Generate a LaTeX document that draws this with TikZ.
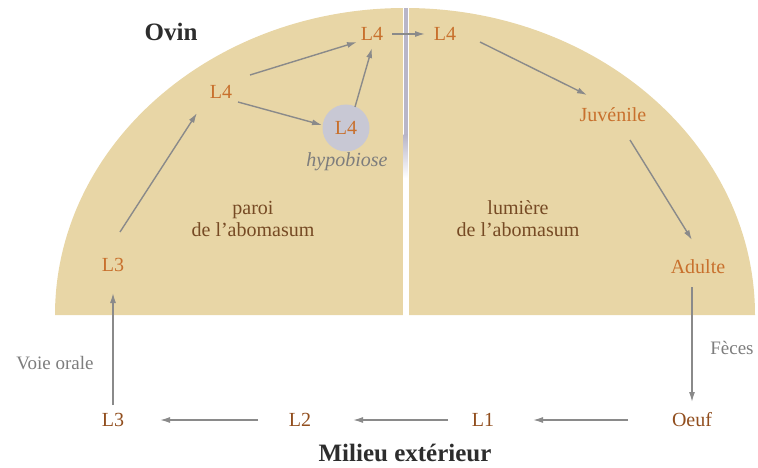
\documentclass[tikz,border=0pt]{standalone}
\usepackage{fontspec}
\setmainfont{Liberation Serif}
\usetikzlibrary{arrows.meta}
\definecolor{tan}{RGB}{232,214,166}
\definecolor{lorange}{RGB}{200,112,45}
\definecolor{lbrown}{RGB}{145,78,30}
\definecolor{tbrown}{RGB}{118,74,36}
\definecolor{arrgrey}{RGB}{138,138,138}
\definecolor{txtgrey}{RGB}{125,125,125}
\definecolor{divgrey}{RGB}{185,182,200}
\definecolor{circgrey}{RGB}{200,200,212}
\definecolor{darktxt}{RGB}{45,45,45}
\tikzset{
  lab/.style={font=\fontsize{20}{22}\selectfont, text=lorange, inner sep=0pt},
  outlab/.style={font=\fontsize{20}{22}\selectfont, text=lbrown, inner sep=0pt},
  zone/.style={font=\fontsize{20}{22}\selectfont, text=tbrown, align=center, inner sep=0pt},
  note/.style={font=\fontsize{19}{22}\selectfont, text=txtgrey, inner sep=0pt},
  title/.style={font=\fontsize{25}{28}\selectfont\bfseries, text=darktxt, inner sep=0pt},
  arr/.style={draw=arrgrey, line width=1.4pt, -{Latex[length=10pt,width=6pt]}},
}
\begin{document}
\begin{tikzpicture}[x=1pt,y=1pt]
\useasboundingbox (0,0) rectangle (758,-468);
% half ellipse
\fill[tan] (55,-315) arc[start angle=180, end angle=0, x radius=350pt, y radius=307pt] -- cycle;
% divider
\fill[white] (402.5,0) rectangle (408.5,-317);
\fill[divgrey] (403.5,-8) rectangle (407.5,-135);
\shade[top color=divgrey, bottom color=white] (403.5,-135) rectangle (407.5,-178);
% titles
\node[title] (ovin) at (171,-32) {Ovin};
\node[title] (milieu) at (405,-453) {Milieu extérieur};
% inside labels
\node[lab] (l4a) at (221,-92) {L4};
\node[lab] (l4b) at (372,-34) {L4};
\node[lab] (l4c) at (445,-34) {L4};
\node[circle, fill=circgrey, minimum size=47pt, inner sep=0pt] (l4h) at (346,-128) {};
\node[lab] (l4ht) at (346,-128) {L4};
\node[note, font=\fontsize{20}{22}\selectfont\itshape] (hyp) at (347,-162) {hypobiose};
\node[lab] (juv) at (613,-115) {Juvénile};
\node[lab] (adu) at (698,-267) {Adulte};
\node[lab] (l3in) at (113,-265) {L3};
\node[zone] (paroi) at (253,-219) {paroi\\de l’abomasum};
\node[zone] (lum) at (518,-219) {lumière\\de l’abomasum};
% outside labels
\node[outlab] (oeuf) at (692,-420) {Oeuf};
\node[outlab] (l1) at (483,-420) {L1};
\node[outlab] (l2) at (300,-420) {L2};
\node[outlab] (l3out) at (113,-420) {L3};
\node[note] (voie) at (55,-363) {Voie orale};
\node[note] (feces) at (732,-348) {Fèces};
% arrows
\draw[arr] ([shift={(7,33)}]l3in.center) -- ([shift={(-24,-21)}]l4a.center);
\draw[arr] ([shift={(29,17)}]l4a.center) -- ([shift={(-15,-8)}]l4b.center);
\draw[arr] ([shift={(17,-10)}]l4a.center) -- ([shift={(-24,3)}]l4h.center);
\draw[arr] ([shift={(9,21)}]l4h.center) -- ([shift={(0,-14)}]l4b.center);
\draw[arr] ([shift={(20,0)}]l4b.center) -- ([shift={(-20,0)}]l4c.center);
\draw[arr] ([shift={(35,-8)}]l4c.center) -- ([shift={(-26,20)}]juv.center);
\draw[arr] ([shift={(17,-25)}]juv.center) -- ([shift={(-6,27)}]adu.center);
\draw[arr] ([shift={(-6,-20)}]adu.center) -- ([shift={(0,18)}]oeuf.center);
\draw[arr] ([shift={(-64,0)}]oeuf.center) -- ([shift={(50,0)}]l1.center);
\draw[arr] ([shift={(-35,0)}]l1.center) -- ([shift={(53,0)}]l2.center);
\draw[arr] ([shift={(-42,0)}]l2.center) -- ([shift={(47,0)}]l3out.center);
\draw[arr] ([shift={(0,15)}]l3out.center) -- ([shift={(0,-28)}]l3in.center);
\end{tikzpicture}
\end{document}
